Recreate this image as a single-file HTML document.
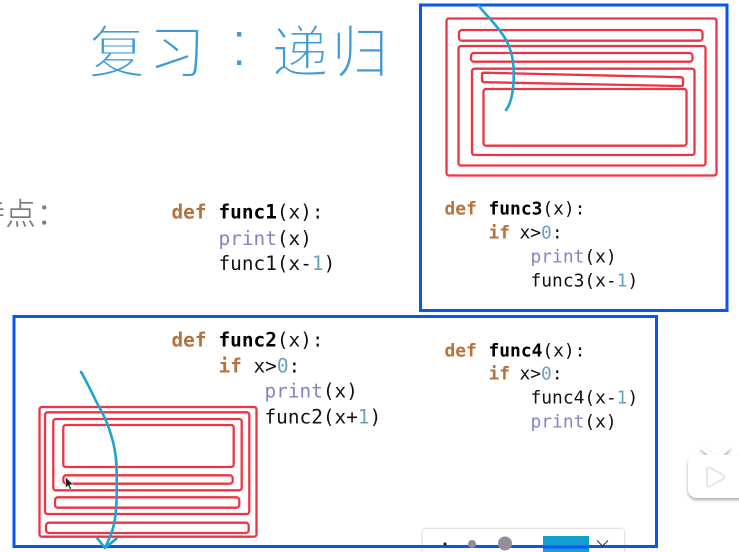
<!DOCTYPE html>
<html><head><meta charset="utf-8"><style>
html,body{margin:0;padding:0;background:#fff;width:739px;height:552px;overflow:hidden}
svg{display:block}
.c{font-family:"DejaVu Sans Mono","Liberation Mono",monospace;fill:#111}
.a{font-size:19.4px}.b{font-size:17.9px}
.k{fill:#b9713a;font-weight:bold}.f{font-weight:bold;fill:#000}.p{fill:#8583c4}.n{fill:#6a9fc0}
.t{font-family:"Noto Sans CJK SC",sans-serif;font-size:57px;fill:#3f9ad8;stroke:#fff;stroke-width:1.9px}
.co{font-family:"Liberation Sans",sans-serif;font-size:66px;fill:#3f9ad8;stroke:#fff;stroke-width:2px}
.g{font-family:"Noto Sans CJK SC",sans-serif;font-size:31px;fill:#7d7d7d;stroke:#fff;stroke-width:.4px}
.r{fill:none;stroke:#ee3444;stroke-width:2.3}
.bl{fill:none;stroke:#0a55ea;stroke-width:3}
.cu{fill:none;stroke:#1ea4cf;stroke-width:2.6;stroke-linecap:round;stroke-linejoin:round}
</style></head><body>
<svg width="739" height="552" viewBox="0 0 739 552" xmlns="http://www.w3.org/2000/svg">
<defs>
<filter id="s" x="-30%" y="-30%" width="160%" height="160%"><feDropShadow dx="0" dy="0" stdDeviation="1" flood-color="#000" flood-opacity=".35"/></filter>
<filter id="s2" x="-30%" y="-30%" width="160%" height="160%"><feDropShadow dx="0" dy="2" stdDeviation="1.5" flood-color="#000" flood-opacity=".35"/></filter>
</defs>
<rect width="739" height="552" fill="#fff"/>

<text class="t" x="88.5" y="72.5">复</text>
<text class="t" x="148.5" y="72.5">习</text>
<text class="co" x="230" y="66">:</text>
<text class="t" x="271.5" y="72.5">递</text>
<text class="t" x="331.5" y="72.5">归</text>

<text class="g" x="-26" y="225">特</text>
<text class="g" x="5" y="225">点</text>
<text class="g" x="36.5" y="225">：</text>

<g class="c a">
<text x="171.5" y="218.5" class="k">def</text><text x="218.5" y="218.5"><tspan class="f">func1</tspan>(x):</text>
<text x="218.5" y="245"><tspan class="p">print</tspan>(x)</text>
<text x="218.5" y="270">func1(x-<tspan class="n">1</tspan>)</text>
<text x="171.5" y="346.5" class="k">def</text><text x="218.5" y="346.5"><tspan class="f">func2</tspan>(x):</text>
<text x="218.5" y="372.5" class="k">if</text><text x="253.5" y="372.5">x&gt;<tspan class="n">0</tspan>:</text>
<text x="264.5" y="397.5"><tspan class="p">print</tspan>(x)</text>
<text x="264.5" y="423.5">func2(x+<tspan class="n">1</tspan>)</text>
</g>
<g class="c b">
<text x="444.5" y="214.5" class="k">def</text><text x="488.5" y="214.5"><tspan class="f">func3</tspan>(x):</text>
<text x="488.5" y="238.5" class="k">if</text><text x="519.5" y="238.5">x&gt;<tspan class="n">0</tspan>:</text>
<text x="530.5" y="262.5"><tspan class="p">print</tspan>(x)</text>
<text x="530.5" y="286.5">func3(x-<tspan class="n">1</tspan>)</text>
<text x="444.5" y="356.5" class="k">def</text><text x="488.5" y="356.5"><tspan class="f">func4</tspan>(x):</text>
<text x="488.5" y="379.5" class="k">if</text><text x="519.5" y="379.5">x&gt;<tspan class="n">0</tspan>:</text>
<text x="530.5" y="403.5">func4(x-<tspan class="n">1</tspan>)</text>
<text x="530.5" y="427.5"><tspan class="p">print</tspan>(x)</text>
</g>

<g class="r">
<rect x="446.5" y="18.5" width="270" height="157" rx="2.5"/>
<rect x="459" y="30" width="243.5" height="10.7" rx="3"/>
<rect x="458.5" y="46" width="247" height="119.5" rx="2.5"/>
<rect x="471" y="53" width="221.5" height="8.7" rx="3"/>
<rect x="472" y="68.7" width="222.5" height="86.3" rx="2.5"/>
<path d="M484 72.7 L681 77.2 Q683 77.4 683 79.5 L683 84 Q683 86 681 86 L484 82.2 Q482 82 482 80 L482 74.7 Q482 72.7 484 72.7 Z"/>
<rect x="483.5" y="89" width="203" height="56.7" rx="2.5"/>

<rect x="39.5" y="407" width="217" height="129.7" rx="2.5"/>
<rect x="45" y="412.3" width="204.3" height="101.7" rx="2.5"/>
<rect x="53.3" y="419" width="188.4" height="71.3" rx="2.5"/>
<rect x="63.3" y="425" width="170.4" height="42" rx="2.5"/>
<rect x="63.3" y="475.3" width="169.4" height="8.4" rx="3"/>
<rect x="55" y="497.3" width="184.3" height="10.4" rx="3"/>
<rect x="46" y="522.7" width="202.7" height="10.3" rx="3"/>
</g>

<rect class="bl" x="420.5" y="5" width="306.5" height="305.5"/>

<g filter="url(#s)"><rect x="422.5" y="529" width="201.5" height="30" rx="3" fill="#fff"/></g>
<rect x="14" y="316.5" width="642.5" height="230" fill="none" stroke="#0a55ea" stroke-width="3"/>
<circle cx="445" cy="544" r="1.5" fill="#111"/>
<circle cx="472" cy="544" r="4" fill="#958d9a"/>
<circle cx="505" cy="543.5" r="7" fill="#958d9a"/>
<rect x="543" y="536" width="46" height="16" fill="#129ed0"/>
<rect x="543" y="545.5" width="46" height="3" fill="#0a55ea"/>
<path d="M597 540.5 L602.5 546 L608 540.5" fill="none" stroke="#333" stroke-width="1"/>

<path class="cu" d="M479 6 C484 13 489 17 492 21 C498 28 503 34 506 40 C510 47 512 55 513 62 C514 70 514 80 513 88 C512 97 510 105 506 110"/>
<path class="cu" d="M81 372 C86 380 92 393 97 403 C102 412 105 418 107 423 C111 434 114 443 115 452 C117 460 116.7 475 116.7 490 C116.7 505 116 518 113 528 C111 536 107 543 105 548"/>
<path class="cu" d="M97.5 538.5 L105 548 L116.5 538.5"/>

<path d="M65.5 477 L65.5 488 L68 485.5 L70 489.5 L71.5 488.8 L69.8 485 L73 484.5 Z" fill="#222" stroke="#fff" stroke-width=".5"/>

<g filter="url(#s2)">
<path d="M703 448 L712 456 M728 448 L719 456" stroke="#fff" stroke-width="4" stroke-linecap="round" fill="none"/>
<rect x="688" y="455" width="62" height="43" rx="9" fill="#fff"/>
</g>
<path d="M707 470 Q707 466 711 468 L723 475 Q725.5 477 723 479 L711 486 Q707 488 707 484 Z" fill="#fff" stroke="#e6e6e6" stroke-width="2"/>
</svg>
</body></html>
